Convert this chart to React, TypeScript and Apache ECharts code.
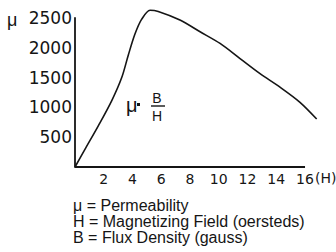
import React, { useEffect, useRef } from "react";
import * as echarts from "echarts";

const hValues = [0, 0.7, 1.62, 2.55, 3.25, 3.71, 4.17, 4.64, 5.22, 5.79, 7.3, 8.7, 10.09, 11.48, 12.87, 14.26, 15.65, 16.81];
const muValues = [0, 300, 690, 1110, 1500, 1880, 2230, 2480, 2630, 2610, 2466, 2269, 2073, 1819, 1566, 1340, 1086, 806];
const xTicks = [2, 4, 6, 8, 10, 12, 14, 16];
const yTicks = [500, 1000, 1500, 2000, 2500];
const xAxisEnd = 16;
const legendLines = ["μ = Permeability", "H = Magnetizing Field (oersteds)", "B = Flux Density (gauss)"];

export default function App() {
  const ref = useRef<HTMLDivElement>(null);
  useEffect(() => {
    if (!ref.current) return;
    const chart = echarts.init(ref.current, null, { renderer: "svg" });
    const ink = "#151515";
    const sans = "Liberation Sans, Arial, sans-serif";
    const digits = "DejaVu Sans, sans-serif";
    chart.setOption({
      animation: false,
      backgroundColor: "#ffffff",
      grid: { left: 75, top: 18, width: 244.4, height: 149, containLabel: false },
      xAxis: {
        type: "value",
        min: 0,
        max: 17,
        interval: 2,
        axisLine: { show: false },
        axisTick: { show: false },
        splitLine: { show: false },
        axisLabel: {
          showMinLabel: false,
          showMaxLabel: false,
          margin: 5,
          color: ink,
          fontFamily: digits,
          fontSize: 14,
          formatter: (v: number) => (xTicks.includes(v) ? String(v) : ""),
        },
      },
      yAxis: {
        type: "value",
        min: 0,
        max: 2500,
        interval: 500,
        axisLine: { show: true, lineStyle: { color: ink, width: 1.8 } },
        axisTick: { show: false },
        splitLine: { show: false },
        axisLabel: {
          showMinLabel: false,
          margin: 3,
          color: ink,
          fontFamily: digits,
          fontSize: 17,
          formatter: (v: number) => (yTicks.includes(v) ? String(v) : ""),
        },
      },
      series: [
        {
          type: "line",
          data: hValues.map((h, i) => [h, muValues[i]]),
          showSymbol: false,
          smooth: 0.3,
          clip: false,
          lineStyle: { color: ink, width: 1.6 },
          markLine: {
            silent: true,
            symbol: ["none", "none"],
            label: { show: false },
            lineStyle: { color: ink, width: 1.8, type: "solid" },
            data: [[{ coord: [0, 0] }, { coord: [xAxisEnd, 0] }]],
          },
        },
      ],
      graphic: [
        { type: "text", left: 7, top: 11, style: { text: "μ", fontSize: 18, fontFamily: sans, fill: ink } },
        { type: "text", left: 315, top: 171, style: { text: "(H)", fontSize: 14, fontFamily: digits, fill: ink } },
        { type: "text", left: 126, top: 95, style: { text: "μ", fontSize: 20, fontFamily: sans, fill: ink } },
        { type: "rect", shape: { x: 137, y: 103, width: 3, height: 3 }, style: { fill: ink } },
        { type: "text", x: 157, y: 98, style: { text: "B", fontSize: 14, fontFamily: sans, fill: ink, align: "center", verticalAlign: "middle" } },
        { type: "line", shape: { x1: 151, y1: 106, x2: 165, y2: 106 }, style: { stroke: ink, lineWidth: 1.4 } },
        { type: "text", x: 157, y: 116, style: { text: "H", fontSize: 14, fontFamily: sans, fill: ink, align: "center", verticalAlign: "middle" } },
        ...legendLines.map((t, i) => ({
          type: "text",
          left: 73,
          top: 197 + i * 16,
          style: { text: t, fontSize: 16, fontFamily: sans, fill: ink },
        })),
      ],
    });
    return () => chart.dispose();
  }, []);
  return <div ref={ref} style={{ position: "absolute", left: 0, top: 0, width: 336, height: 252 }} />;
}
